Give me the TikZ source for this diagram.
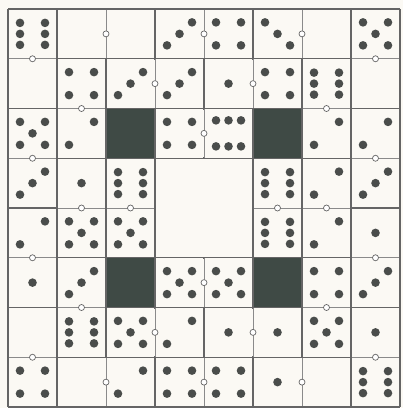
\documentclass[tikz,border=0pt]{standalone}
\definecolor{paper}{HTML}{FBF9F4}
\definecolor{gridc}{HTML}{656565}
\definecolor{innerc}{HTML}{8A8A8A}
\definecolor{pipc}{HTML}{4A4D4B}
\definecolor{darkc}{HTML}{3F4A45}
\newcommand\pp[2]{\fill[pipc] (#1,#2) circle[radius=4.3];}
\newcommand\die[3]{%
  \begin{scope}[shift={({8+49*(#1-0.5)},{9+49.75*(#2-0.5)})}]
  \ifcase#3\relax
  \or \pp{0}{0}
  \or \pp{12.5}{-11.5}\pp{-12.5}{11.5}
  \or \pp{12.5}{-11.5}\pp{0}{0}\pp{-12.5}{11.5}
  \or \pp{12.5}{-11.5}\pp{-12.5}{11.5}\pp{-12.5}{-11.5}\pp{12.5}{11.5}
  \or \pp{12.5}{-11.5}\pp{-12.5}{11.5}\pp{-12.5}{-11.5}\pp{12.5}{11.5}\pp{0}{0}
  \or \pp{-12.5}{-11}\pp{-12.5}{0}\pp{-12.5}{11}\pp{12.5}{-11}\pp{12.5}{0}\pp{12.5}{11}
  \or \pp{-12.5}{-11.5}\pp{0}{0}\pp{12.5}{11.5}
  \or \pp{-12.5}{-13}\pp{0}{-13}\pp{12.5}{-13}\pp{-12.5}{13}\pp{0}{13}\pp{12.5}{13}
  \fi
  \end{scope}}
\tikzset{
  gridline/.style={draw=gridc, line width=1.4pt},
  innerline/.style={draw=innerc, line width=0.8pt},
  knob/.style={draw=gridc, fill=white, line width=0.7pt},
  darksq/.style={fill=darkc, draw=gridc, line width=1.4pt}
}
\begin{document}
\begin{tikzpicture}[x=1pt,y=-1pt]
\fill[paper] (0,0) rectangle (403,408);
\useasboundingbox (0,0) rectangle (403,408);
% grid
\foreach \i in {0,...,8} \draw[gridline] ({8+49*\i},9) -- ({8+49*\i},407);
\foreach \j in {0,...,8} \draw[gridline] (8,{9+49.75*\j}) -- (400,{9+49.75*\j});
% centre block (no inner lines)
\fill[paper] ({8+49*3},{9+49.75*3}) rectangle ({8+49*5},{9+49.75*5});
\draw[gridline] ({8+49*3},{9+49.75*3}) rectangle ({8+49*5},{9+49.75*5});
% dark squares
\foreach \c/\r in {3/3,6/3,3/6,6/6}
  \draw[darksq] ({8+49*(\c-1)},{9+49.75*(\r-1)}) rectangle ({8+49*\c},{9+49.75*\r});
% horizontal dominoes: row/col (between col and col+1)
\foreach \r/\c in {1/2,1/4,1/6,2/3,2/5,3/4,6/4,7/3,7/5,8/2,8/4,8/6}{
  \draw[paper, line width=1.6pt] ({8+49*\c},{9+49.75*(\r-1)+1}) -- ({8+49*\c},{9+49.75*\r-1});
  \draw[innerline] ({8+49*\c},{9+49.75*(\r-1)+0.7}) -- ({8+49*\c},{9+49.75*\r-0.7});
  \draw[knob] ({8+49*\c},{9+49.75*(\r-0.5)}) circle[radius=3];
}
% vertical dominoes: col/row (between row and row+1)
\foreach \c/\r in {1/1,1/3,1/5,1/7,8/1,8/3,8/5,8/7,2/2,2/4,2/6,7/2,7/4,7/6,3/4,6/4}{
  \draw[paper, line width=1.6pt] ({8+49*(\c-1)+1},{9+49.75*\r}) -- ({8+49*\c-1},{9+49.75*\r});
  \draw[innerline] ({8+49*(\c-1)+0.7},{9+49.75*\r}) -- ({8+49*\c-0.7},{9+49.75*\r});
  \draw[knob] ({8+49*(\c-0.5)},{9+49.75*\r}) circle[radius=3];
}
% pips
\foreach \r/\lst in {1/{6,0,0,3,4,7,0,5},2/{0,4,3,3,1,4,6,0},3/{5,2,0,4,8,0,2,2},4/{3,1,6,0,0,6,2,3},5/{2,5,5,0,0,6,2,1},6/{1,3,0,5,5,0,4,3},7/{0,6,5,2,1,1,5,1},8/{4,0,2,4,4,1,0,6}}{
  \foreach \n [count=\c] in \lst {\die{\c}{\r}{\n}}
}
\end{tikzpicture}
\end{document}
